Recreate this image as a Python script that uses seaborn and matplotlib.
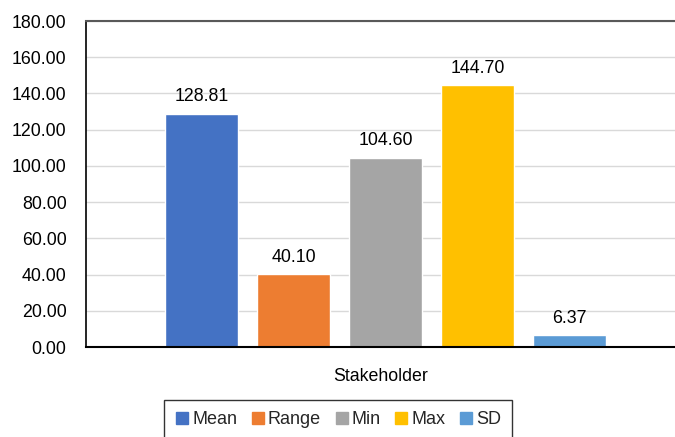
import matplotlib
matplotlib.use("Agg")
import matplotlib.pyplot as plt
import seaborn as sns
import pandas as pd
from matplotlib.lines import Line2D

group = "Stakeholder"
stats = ["Mean", "Range", "Min", "Max", "SD"]
values = [128.81, 40.10, 104.60, 144.70, 6.37]
colors = ["#4472C4", "#ED7D31", "#A5A5A5", "#FFC000", "#5B9BD5"]
yticks = [0, 20, 40, 60, 80, 100, 120, 140, 160, 180]

df = pd.DataFrame({"group": [group] * len(stats), "stat": stats, "value": values})

sns.set_theme(style="white")
plt.rcParams["font.family"] = ["Liberation Sans", "DejaVu Sans"]

FS = 12.8
fig = plt.figure(figsize=(6.75, 4.37), dpi=100)
ax = fig.add_axes([86 / 675, 90 / 437, 1 - 86 / 675, 326 / 437])

sns.barplot(data=df, x="group", y="value", hue="stat", hue_order=stats,
            palette=colors, width=0.8, gap=0.207, saturation=1, ax=ax,
            legend=False, errorbar=None)

for c in ax.containers:
    ax.bar_label(c, fmt="%.2f", padding=6, fontsize=FS, color="#000000")

ax.set_ylim(0, 180)
ax.set_yticks(yticks)
ax.set_yticklabels([f"{v:.2f}" for v in yticks], fontsize=FS, color="#000000")
ax.set_xlim(-0.5209, 0.5035)
ax.set_xticks([])
ax.set_xlabel(group, fontsize=FS, color="#000000", labelpad=15)
ax.set_ylabel("")
ax.tick_params(axis="y", length=0, pad=14)

ax.grid(axis="y", color="#D9D9D9", linewidth=1)
ax.set_axisbelow(True)
ax.spines["right"].set_visible(False)
ax.spines["top"].set_color("#595959")
ax.spines["top"].set_linewidth(1.5)
ax.spines["left"].set_color("#000000")
ax.spines["bottom"].set_color("#000000")
ax.spines["left"].set_linewidth(1.2)
ax.spines["bottom"].set_linewidth(1.5)

handles = [Line2D([0], [0], marker="s", linestyle="none", markersize=8,
                  markerfacecolor=col, markeredgecolor=col) for col in colors]
leg = fig.legend(handles, stats, loc="upper center", ncol=5,
                 bbox_to_anchor=(338 / 675, 37 / 437), frameon=True,
                 fontsize=13, handletextpad=0.15, columnspacing=0.75,
                 fancybox=False, borderpad=0.6, handlelength=0.8,
                 borderaxespad=0)
leg.get_frame().set_edgecolor("#000000")
leg.get_frame().set_linewidth(1.0)

fig.savefig("out.png", dpi=100)
